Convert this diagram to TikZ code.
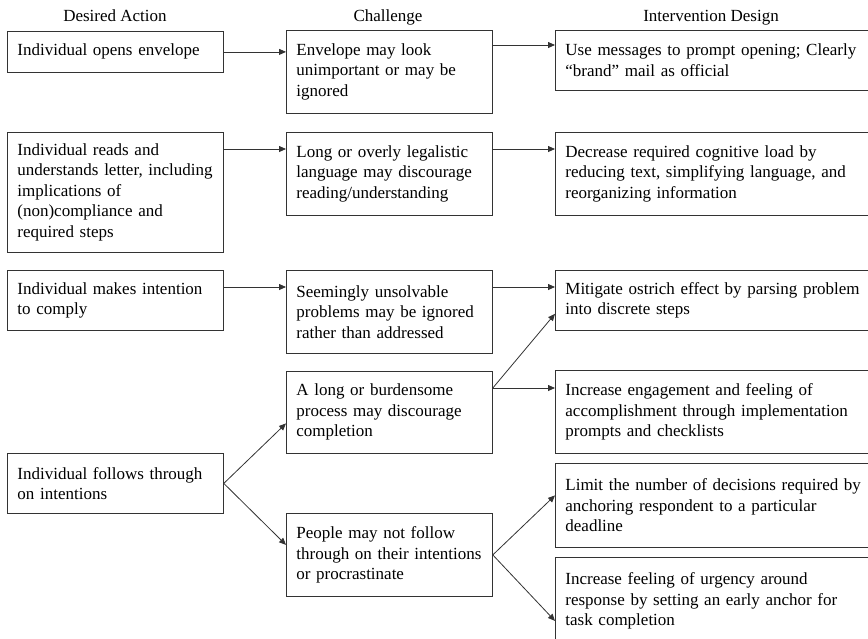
\documentclass[tikz,border=0pt]{standalone}
\usepackage{fontspec}
\setmainfont{Liberation Serif}
\usetikzlibrary{arrows.meta}
\hyphenpenalty=10000
\exhyphenpenalty=10000
\newcommand\diagfont{\fontsize{17}{20.5}\selectfont}
\begin{document}
\begin{tikzpicture}[x=1pt,y=-1pt,
  box/.style={draw=black!80, line width=0.8pt, rectangle, anchor=north west,
    inner xsep=10pt, inner ysep=0pt, align=left, font=\diagfont},
  acol/.style={box, minimum width=216pt, text width=196pt},
  bcol/.style={box, minimum width=206pt, text width=186pt},
  ccol/.style={box, minimum width=325pt, text width=305pt},
  hdr/.style={font=\diagfont, inner sep=0pt, anchor=base},
  arr/.style={draw=black!80, line width=0.8pt, -{Triangle[length=7pt,width=6pt]}}]
\useasboundingbox (0,0) rectangle (868,638);
\clip (0,0) rectangle (868,638);

% headers
\node[hdr] (h1) at (115,21) {Desired Action};
\node[hdr] (h2) at (388,21) {Challenge};
\node[hdr] (h3) at (711,21) {Intervention Design};

% column A
\node[acol, minimum height=41pt] (A1) at (7,31) {Individual opens envelope};
\node[acol, minimum height=120pt] (A2) at (7,132) {Individual reads and\\understands letter, including\\implications of\\(non)compliance and\\required steps};
\node[acol, minimum height=60pt] (A3) at (7,270) {Individual makes intention\\to comply};
\node[acol, minimum height=60pt] (A4) at (7,453) {Individual follows through\\on intentions};

% column B
\node[bcol, minimum height=83pt] (B1) at (286,30) {Envelope may look\\unimportant or may be\\ignored};
\node[bcol, minimum height=83pt] (B2) at (286,132) {Long or overly legalistic\\language may discourage\\reading/understanding};
\node[bcol, minimum height=83pt] (B3) at (286,270) {Seemingly unsolvable\\problems may be ignored\\rather than addressed};
\node[bcol, minimum height=82pt] (B4) at (286,371) {A long or burdensome\\process may discourage\\completion};
\node[bcol, minimum height=83pt] (B5) at (286,513) {People may not follow\\through on their intentions\\or procrastinate};

% column C
\node[ccol, minimum height=60pt] (C1) at (555,30) {Use messages to prompt opening; Clearly\\“brand” mail as official};
\node[ccol, minimum height=83pt] (C2) at (555,132) {Decrease required cognitive load by\\reducing text, simplifying language, and\\reorganizing information};
\node[ccol, minimum height=60pt] (C3) at (555,270) {Mitigate ostrich effect by parsing problem\\into discrete steps};
\node[ccol, minimum height=83pt] (C4) at (555,370) {Increase engagement and feeling of\\accomplishment through implementation\\prompts and checklists};
\node[ccol, minimum height=84pt] (C5) at (555,463) {Limit the number of decisions required by\\anchoring respondent to a particular\\deadline};
\node[ccol, minimum height=87pt] (C6) at (555,557) {Increase feeling of urgency around\\response by setting an early anchor for\\task completion};

% connectors
\draw[arr] (A1.east) -- (A1.east -| B1.west);
\draw[arr] ([yshift=-15pt]B1.north east) -- ([yshift=-15pt]C1.north west);
\draw[arr] ([yshift=-17pt]A2.north east) -- ([yshift=-17pt]B2.north west);
\draw[arr] ([yshift=-17pt]B2.north east) -- ([yshift=-17pt]C2.north west);
\draw[arr] ([yshift=-17pt]A3.north east) -- ([yshift=-17pt]B3.north west);
\draw[arr] ([yshift=-17pt]B3.north east) -- ([yshift=-17pt]C3.north west);
\draw[arr] ([yshift=-17pt]B4.north east) -- ([yshift=17pt]C3.south west);
\draw[arr] ([yshift=-17pt]B4.north east) -- ([yshift=-18pt]C4.north west);
\draw[arr] (A4.east) -- ([yshift=-11pt]B4.west);
\draw[arr] (A4.east) -- ([yshift=10pt]B5.west);
\draw[arr] (B5.east) -- ([yshift=10pt]C5.west);
\draw[arr] (B5.east) -- ([yshift=-20pt]C6.west);
\end{tikzpicture}
\end{document}
